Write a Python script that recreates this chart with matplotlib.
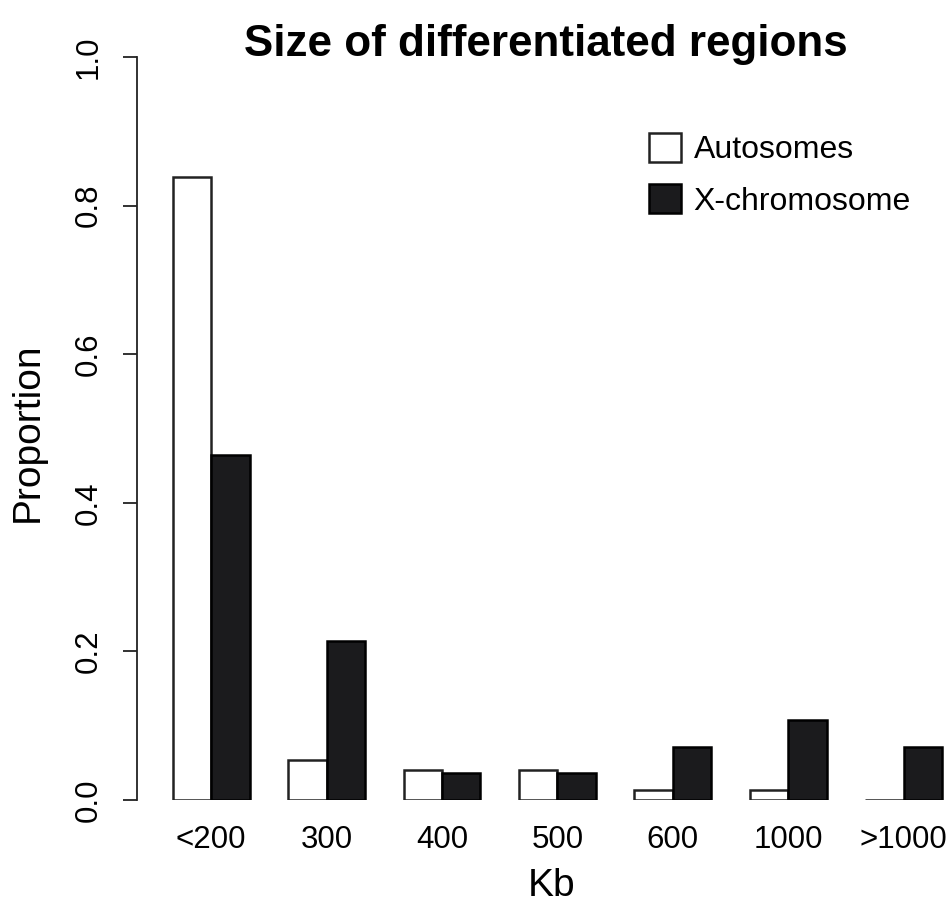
import matplotlib
matplotlib.use("Agg")
import matplotlib.pyplot as plt
import numpy as np

plt.rcParams['font.family'] = ['Liberation Sans', 'DejaVu Sans']

# Proportion of differentiated regions by size class
size_classes = ["<200", "300", "400", "500", "600", "1000", ">1000"]
autosomes = [0.838, 0.054, 0.041, 0.041, 0.014, 0.014, 0.0]
x_chromosome = [0.464, 0.214, 0.036, 0.036, 0.071, 0.107, 0.071]
y_ticks = [0.0, 0.2, 0.4, 0.6, 0.8, 1.0]

W, H = 952, 907
fig = plt.figure(figsize=(W / 100, H / 100), dpi=100)

# plot region in pixels
left, right, top, bottom = 137, 952, 57, 800
ax = fig.add_axes([left / W, 1 - bottom / H, (right - left) / W, (bottom - top) / H])

n = len(size_classes)
group_start = 1 + 3 * np.arange(n)          # left edge of each pair
ax.bar(group_start, autosomes, width=1, align='edge',
       facecolor='white', edgecolor='#222222', linewidth=1.8, label='Autosomes')
ax.bar(group_start + 1, x_chromosome, width=1, align='edge',
       facecolor='#1b1b1d', edgecolor='black', linewidth=1.8, label='X-chromosome')

ax.set_xlim(0.07, 21.26)
ax.set_ylim(0, 1)

for s in ['top', 'right', 'bottom']:
    ax.spines[s].set_visible(False)
ax.spines['left'].set_bounds(0, 1)
ax.spines['left'].set_linewidth(1.3)
ax.spines['left'].set_color('#222222')

ax.set_yticks(y_ticks)
ax.set_yticklabels([f"{v:.1f}" for v in y_ticks], rotation=90, va='center', fontsize=22.5)
ax.tick_params(axis='y', length=10, width=1.3, color='#222222', pad=14)

ax.set_xticks(group_start + 1)
ax.set_xticklabels(size_classes, fontsize=22.5)
ax.tick_params(axis='x', length=0, pad=18)

fig.text(546 / W, 1 - 56 / H, "Size of differentiated regions", ha='center',
         va='baseline', fontsize=31.7, fontweight='bold')
fig.text(552 / W, 1 - 896 / H, "Kb", ha='center', va='baseline', fontsize=28)
fig.text(28 / W, 1 - 432 / H, "Proportion", ha='center', va='center',
         rotation=90, fontsize=28)

ax.legend(loc='upper left', bbox_to_anchor=(649 / W, 1 - 133 / H),
          bbox_transform=fig.transFigure, frameon=False, fontsize=23,
          handlelength=1.0, handleheight=1.0, handletextpad=0.4,
          labelspacing=0.6, borderpad=0, borderaxespad=0)

fig.savefig("out.png", dpi=100)
